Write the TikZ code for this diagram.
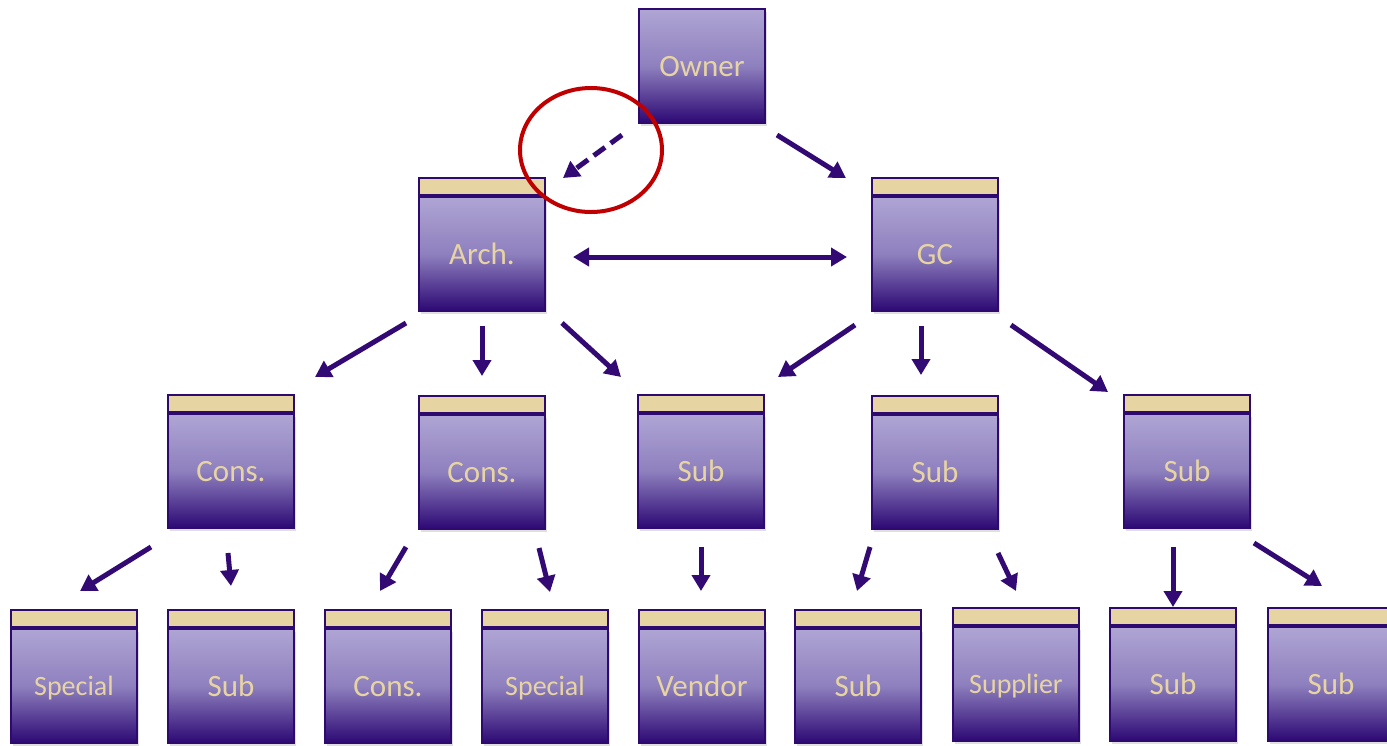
\documentclass[tikz,border=0pt]{standalone}
\usepackage{fontspec}
\setmainfont{Carlito}
\usetikzlibrary{arrows.meta,shadows}

\definecolor{boxline}{HTML}{2E0A6E}
\definecolor{boxtop}{HTML}{AFA5D4}
\definecolor{boxmid}{HTML}{8E80BE}
\definecolor{boxbot}{HTML}{2C0874}
\definecolor{lidtan}{HTML}{E7D4A3}
\definecolor{arrowpurple}{HTML}{330A73}
\definecolor{ringred}{HTML}{C00000}

\begin{document}
\begin{tikzpicture}[x=0.5pt, y=-0.5pt,
    >={Triangle[length=8pt,width=9pt]},
    party/.style={draw=boxline, line width=1pt, top color=boxtop, bottom color=boxbot, middle color=boxmid,
        minimum width=63pt, minimum height=57pt, inner sep=0pt, text=lidtan,
        font=\fontsize{15.5}{18}\selectfont, text depth=-1pt,
        drop shadow={opacity=0.25, shadow xshift=1pt, shadow yshift=-1.5pt}},
    lid/.style={draw=boxline, line width=1pt, fill=lidtan, minimum width=63pt, minimum height=8.5pt, inner sep=0pt},
    capped/.style={label={[lid]above:{}}},
    small/.style={font=\fontsize{14}{16}\selectfont},
    link/.style={arrowpurple, line width=2.5pt, ->}]

    \useasboundingbox (0,0) rectangle (1387,745);
    \clip (0,0) rectangle (1387,745);

    % Top two levels
    \node[party] (owner) at (702,66) {Owner};
    \node[party, capped] (arch) at (482,254) {Arch.};
    \node[party, capped] (gc) at (935,254) {GC};

    % Third level
    \node[party, capped] (cons1) at (231,471) {Cons.};
    \node[party, capped] (cons2) at (482,472) {Cons.};
    \node[party, capped] (submid) at (701,471) {Sub};
    \node[party, capped] (sub2) at (935,472) {Sub};
    \node[party, capped] (sub3) at (1187,471) {Sub};

    % Bottom level
    \node[party, capped, small] (special1) at (74,686) {Special};
    \node[party, capped] (sub4) at (231,686) {Sub};
    \node[party, capped] (cons3) at (388,686) {Cons.};
    \node[party, capped, small] (special2) at (545,686) {Special};
    \node[party, capped] (vendor) at (702,686) {Vendor};
    \node[party, capped] (sub5) at (858,686) {Sub};
    \node[party, capped, small] (supplier) at (1016,684) {Supplier};
    \node[party, capped] (sub6) at (1173,684) {Sub};
    \node[party, capped] (sub7) at (1331,684) {Sub};

    % Contract lines
    \draw[link, dash pattern=on 7pt off 3.5pt] ([shift={(-16,11)}]owner.south west) -- ([shift={(17,-18)}]arch.north east);
    \draw[link] ([shift={(11,11)}]owner.south east) -- ([shift={(-25,-18)}]gc.north west);
    \draw[link, <->] ([shift={(27,3)}]arch.east) -- ([shift={(-24,3)}]gc.west);

    \draw[link] ([shift={(-12,11)}]arch.south west) -- ([shift={(20,-36)}]cons1.north east);
    \draw[link] ([shift={(0,14)}]arch.south) -- ([shift={(0,-38)}]cons2.north);
    \draw[link] ([shift={(16,11)}]arch.south east) -- ([shift={(-16,-36)}]submid.north west);
    \draw[link] ([shift={(-16,13)}]gc.south west) -- ([shift={(13,-36)}]submid.north east);
    \draw[link] ([shift={(-14,14)}]gc.south) -- ([shift={(-14,-39)}]sub2.north);
    \draw[link] ([shift={(12,13)}]gc.south east) -- ([shift={(-15,-21)}]sub3.north west);

    \draw[link] ([shift={(-16,18)}]cons1.south west) -- ([shift={(6,-37)}]special1.north);
    \draw[link] ([shift={(-3,24)}]cons1.south) -- ([shift={(0,-42)}]sub4.north);
    \draw[link] ([shift={(-12,17)}]cons2.south west) -- ([shift={(-8,-37)}]cons3.north);
    \draw[link] ([shift={(-7,18)}]cons2.south east) -- ([shift={(5,-36)}]special2.north);
    \draw[link] ([shift={(0,18)}]submid.south) -- ([shift={(-1,-37)}]vendor.north);
    \draw[link] ([shift={(-1,17)}]sub2.south west) -- ([shift={(-1,-37)}]sub5.north);
    \draw[link] ([shift={(-1,23)}]sub2.south east) -- ([shift={(0,-35)}]supplier.north);
    \draw[link] ([shift={(-14,18)}]sub3.south) -- ([shift={(0,-19)}]sub6.north);
    \draw[link] ([shift={(3,14)}]sub3.south east) -- ([shift={(-9,-40)}]sub7.north);

    % Highlight ring
    \draw[ringred, line width=2pt] (591,150) ellipse [x radius=71, y radius=62];
\end{tikzpicture}
\end{document}
